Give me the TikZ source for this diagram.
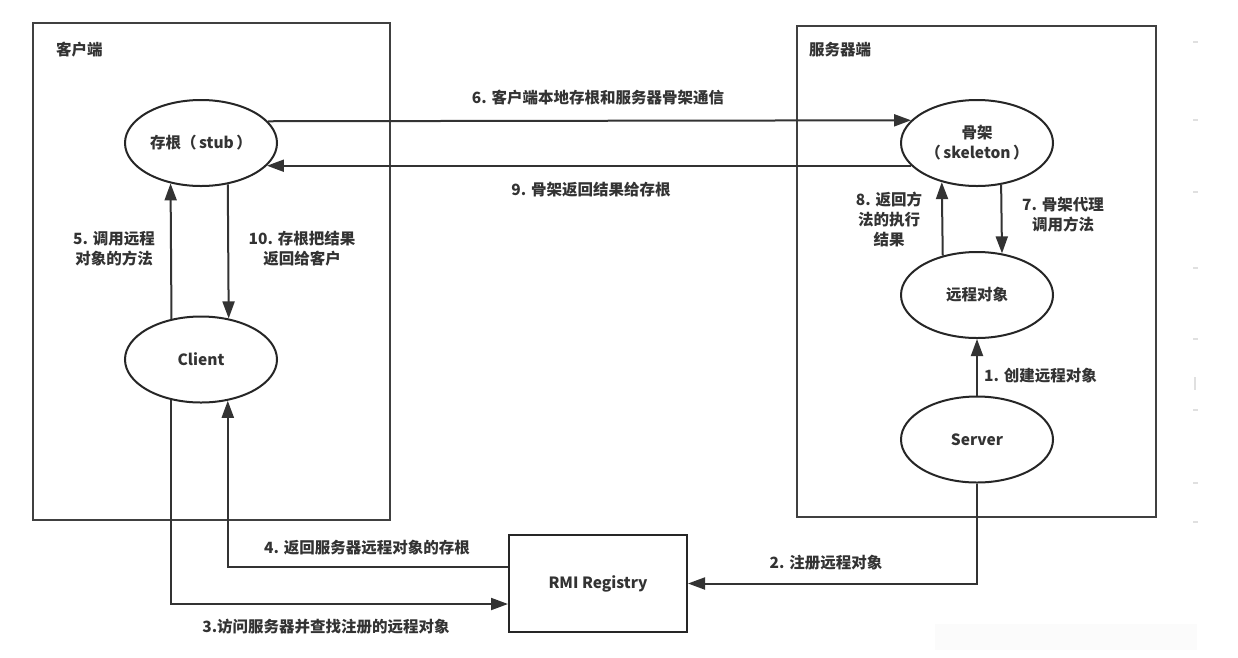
\documentclass[tikz,border=0pt]{standalone}
\usepackage{fontspec}
\setmainfont{Noto Sans CJK SC}
\usepackage{tikz}
\usetikzlibrary{arrows.meta,shapes.geometric}

\begin{document}
\begin{tikzpicture}[x=1pt,y=-1pt,font=\fontsize{15.5}{20}\selectfont\bfseries,
  zone/.style={draw=black!75,line width=2.5pt},
  link/.style={draw=black!80,line width=2pt,-{Triangle[length=17pt,width=12pt]}},
  proc/.style={ellipse,draw=black!85,line width=2pt,minimum width=152pt,minimum height=86pt,inner sep=0pt,align=center,text=black!80},
  lbl/.style={text=black!80,align=center,inner sep=0pt}]
\useasboundingbox (0,0) rectangle (1238,657);
\fill[white] (0,0) rectangle (1238,657);
% screenshot leftovers at the right edge
\foreach \t in {42,120,192,268,339,410,483,522} {\draw[black!12,line width=1.5pt] (1193,\t) -- (1198,\t);}
\draw[black!12,line width=1.5pt] (1195,377) -- (1195,390);
\fill[black!1.5] (935,624) rectangle (1197,650);
% client and server zones
\draw[zone] (33,23) rectangle (390,520);
\node[lbl,anchor=west] (cside) at (56,50) {客户端};
\draw[zone] (797,26) rectangle (1156,517);
\node[lbl,anchor=west] (sside) at (809,50) {服务器端};
% nodes
\node[proc] (stub) at (201,143) {存根（\,stub\,）};
\node[proc] (client) at (201,359.5) {Client};
\node[proc] (skel) at (977,143) {骨架\\（\,skeleton\,）};
\node[proc] (remote) at (977,295) {远程对象};
\node[proc] (server) at (977,439.5) {Server};
\node[draw=black!85,line width=2pt,minimum width=178pt,minimum height=97pt,text=black!80] (rmi) at (598,583.5) {RMI Registry};
% connectors
\draw[link] (server.north) -- (remote.south);
\draw[link] (server.south) |- (rmi.east);
\draw[link] (client.233.9) |- ([yshift=-20.5pt]rmi.west);
\draw[link] ([yshift=16.5pt]rmi.west) -| (client.303.9);
\draw[link] (client.126.1) -- (stub.233.9);
\draw[link] (stub.18.6) -- (skel.161.4);
\draw[link] (skel.300.5) -- (remote.59.5);
\draw[link] (remote.131.4) -- (skel.228.6);
\draw[link] (skel.199.7) -- (stub.-19.7);
\draw[link] (stub.303.9) -- (client.56.1);
% labels
\node[lbl,anchor=west] (l1) at (984,376) {1. 创建远程对象};
\node[lbl] (l2) at (826,563) {2. 注册远程对象};
\node[lbl] (l3) at (326,627) {3.访问服务器并查找注册的远程对象};
\node[lbl] (l4) at (367,548) {4. 返回服务器远程对象的存根};
\node[lbl] (l5) at (114,249) {5. 调用远程\\对象的方法};
\node[lbl] (l6) at (598,98) {6. 客户端本地存根和服务器骨架通信};
\node[lbl] (l7) at (1063,215) {7. 骨架代理\\调用方法};
\node[lbl] (l8) at (889,219) {8. 返回方\\法的执行\\结果};
\node[lbl] (l9) at (591,190) {9. 骨架返回结果给存根};
\node[lbl] (l10) at (302,249) {10. 存根把结果\\返回给客户};
\end{tikzpicture}
\end{document}
